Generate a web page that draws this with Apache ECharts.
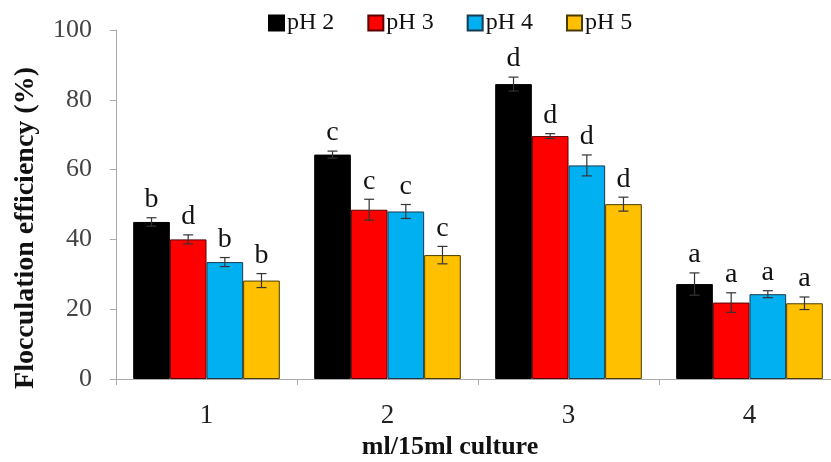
<!DOCTYPE html>
<html>
<head>
<meta charset="utf-8">
<script src="https://cdn.jsdelivr.net/npm/echarts@6/dist/echarts.min.js"></script>
<style>html,body{margin:0;padding:0;background:#fff;overflow:hidden;}#c{width:840px;height:462px;}</style>
</head>
<body>
<div id="c"></div>
<script>
const categories = ['1', '2', '3', '4'];
const seriesNames = ['pH 2', 'pH 3', 'pH 4', 'pH 5'];
const ph2 = [45, 64.3, 84.5, 27.2];
const ph3 = [40, 48.5, 69.6, 21.9];
const ph4 = [33.5, 48, 61.2, 24.3];
const ph5 = [28.2, 35.5, 50.1, 21.7];
const ph2Err = [1.2, 1, 2, 3.2];
const ph3Err = [1.3, 3, 0.7, 2.8];
const ph4Err = [1.3, 2, 3, 1];
const ph5Err = [2, 2.5, 2, 1.8];
const ph2Letters = ['b', 'c', 'd', 'a'];
const ph3Letters = ['d', 'c', 'd', 'a'];
const ph4Letters = ['b', 'c', 'd', 'a'];
const ph5Letters = ['b', 'c', 'd', 'a'];
const yTicks = [0, 20, 40, 60, 80, 100];

const values = [ph2, ph3, ph4, ph5];
const errs = [ph2Err, ph3Err, ph4Err, ph5Err];
const letters = [ph2Letters, ph3Letters, ph4Letters, ph5Letters];
const colors = ['#000000', '#ff0000', '#00b0f0', '#ffc000'];
const borders = ['#000000', '#5a0000', '#1a3a50', '#4a3a00'];
const FONT = "'Liberation Serif', 'Times New Roman', serif";
const GAP = 0.19;

const chart = echarts.init(document.getElementById('c'), null, {renderer: 'canvas'});

const series = [];
values.forEach((vals, i) => {
  series.push({
    name: seriesNames[i],
    type: 'bar',
    data: vals,
    barGap: '0%',
    barCategoryGap: (GAP * 100) + '%',
    itemStyle: {color: colors[i], borderColor: borders[i], borderWidth: 1},
    z: 2
  });
});
values.forEach((vals, i) => {
  series.push({
    name: seriesNames[i] + ' err',
    type: 'custom',
    z: 5,
    silent: true,
    data: vals.map((v, j) => [j, v, errs[i][j], letters[i][j]]),
    renderItem: function (params, api) {
      const ci = api.value(0);
      const v = api.value(1);
      const e = api.value(2);
      const band = api.size([1, 0])[0];
      const bw = band * (1 - GAP) / 4;
      const off = (i - 1.5) * bw;
      const top = api.coord([ci, v + e]);
      const bot = api.coord([ci, v - e]);
      const x = top[0] + off;
      const cap = 5;
      const st = {stroke: '#333', lineWidth: 1.2};
      return {
        type: 'group',
        children: [
          {type: 'line', shape: {x1: x, y1: top[1], x2: x, y2: bot[1]}, style: st},
          {type: 'line', shape: {x1: x - cap, y1: top[1], x2: x + cap, y2: top[1]}, style: st},
          {type: 'line', shape: {x1: x - cap, y1: bot[1], x2: x + cap, y2: bot[1]}, style: st},
          {type: 'text', style: {text: api.value(3), x: x, y: top[1] - 4, textAlign: 'center', textVerticalAlign: 'bottom', font: '28px ' + FONT, fill: '#111'}}
        ]
      };
    }
  });
});

chart.setOption({
  animation: false,
  backgroundColor: '#fff',
  legend: {
    data: seriesNames,
    left: 263,
    top: 6,
    itemWidth: 15,
    itemHeight: 15,
    itemGap: 33,
    textStyle: {fontFamily: FONT, fontSize: 24, color: '#111', padding: [0, 0, 0, -2]},
    icon: 'rect'
  },
  grid: {left: 116, right: 0, top: 30, bottom: 83},
  xAxis: {
    type: 'category',
    data: categories,
    axisLine: {lineStyle: {color: '#aaa', width: 1}},
    axisTick: {show: true, length: 6, lineStyle: {color: '#aaa'}},
    axisLabel: {fontFamily: FONT, fontSize: 27, color: '#222', margin: 23}
  },
  yAxis: {
    type: 'value',
    min: yTicks[0],
    max: yTicks[yTicks.length - 1],
    interval: 20,
    splitLine: {show: false},
    axisLine: {show: true, lineStyle: {color: '#aaa', width: 1}},
    axisTick: {show: true, length: 6, lineStyle: {color: '#aaa'}},
    axisLabel: {fontFamily: FONT, fontSize: 26, color: '#444', margin: 24}
  },
  graphic: [
    {type: 'text', x: 26, y: 228, rotation: Math.PI / 2,
     style: {text: 'Flocculation efficiency (%)', font: 'bold 28px ' + FONT, fill: '#111', textAlign: 'center', textVerticalAlign: 'middle'}},
    {type: 'text', x: 450, y: 447,
     style: {text: 'ml/15ml culture', font: 'bold 26px ' + FONT, fill: '#111', textAlign: 'center', textVerticalAlign: 'middle'}}
  ],
  series: series
});
</script>
</body>
</html>
